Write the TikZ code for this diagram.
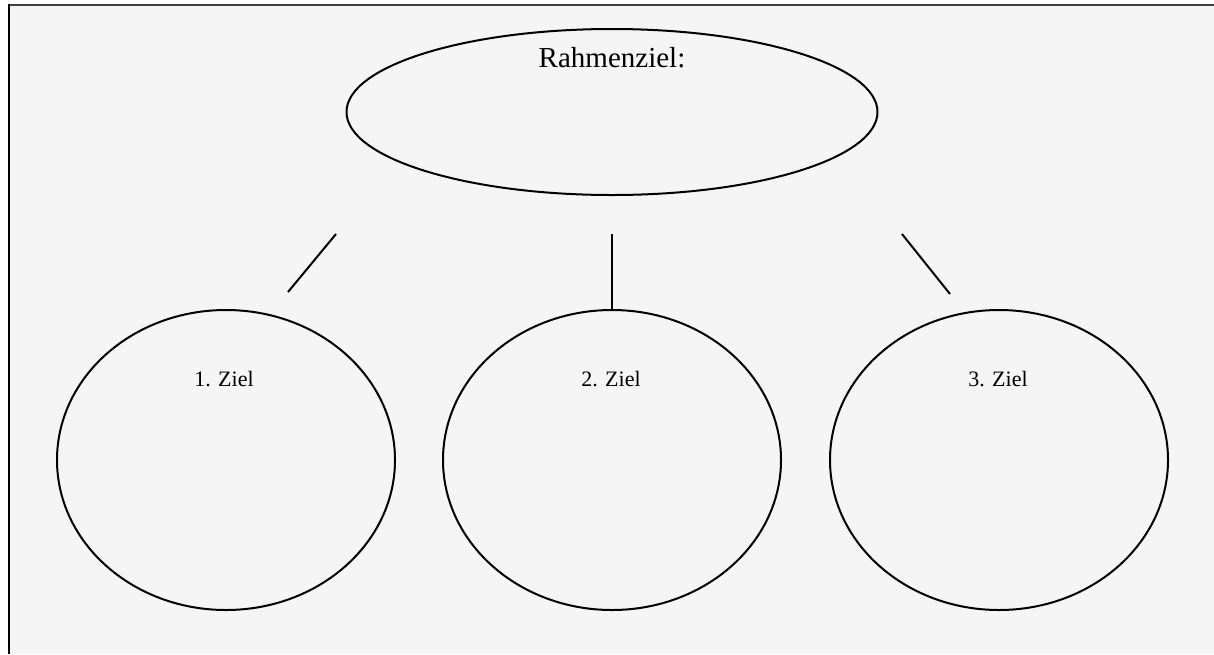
\documentclass[tikz,border=0pt]{standalone}
\usepackage{fontspec}
\setmainfont{Liberation Serif}
\usetikzlibrary{shapes.geometric}
\begin{document}
\begin{tikzpicture}[x=1pt,y=-1pt,
  goal/.style={ellipse,draw=black,line width=2pt,inner sep=0pt},
  label/.style={inner sep=0pt,text=black},
  link/.style={draw=black,line width=2pt}]
  \useasboundingbox (0,0) rectangle (1214,654);
  % sheet background and its top/left rule
  \fill[white] (0,0) rectangle (1214,654);
  \fill[black!4] (9,5) rectangle (1214,654);
  \draw[black!75,line width=1.6pt] (8,5) -- (1214,5);
  \draw[black,line width=2.4pt] (9,4.2) -- (9,654);
  % goals
  \node[goal,minimum width=531,minimum height=166] (top) at (612,112) {};
  \node[goal,minimum width=338,minimum height=300] (g1) at (226,460) {};
  \node[goal,minimum width=338,minimum height=300] (g2) at (612,460) {};
  \node[goal,minimum width=338,minimum height=300] (g3) at (999,460) {};
  % captions
  \node[label,font=\fontsize{29}{32}\selectfont] (ttop) at (612,58) {Rahmenziel:};
  \node[label,font=\fontsize{22}{26}\selectfont] (t1) at (224,379) {1. Ziel};
  \node[label,font=\fontsize{22}{26}\selectfont] (t2) at (611,379) {2. Ziel};
  \node[label,font=\fontsize{22}{26}\selectfont] (t3) at (998,379) {3. Ziel};
  % free-standing links between the goals
  \coordinate (l1a) at (336,234);
  \coordinate (l1b) at (288,292);
  \coordinate (l2a) at (612,234);
  \coordinate (l2b) at (612,310);
  \coordinate (l3a) at (902,234);
  \coordinate (l3b) at (950,294);
  \draw[link] (l1a) -- (l1b);
  \draw[link] (l2a) -- (l2b);
  \draw[link] (l3a) -- (l3b);
\end{tikzpicture}
\end{document}
